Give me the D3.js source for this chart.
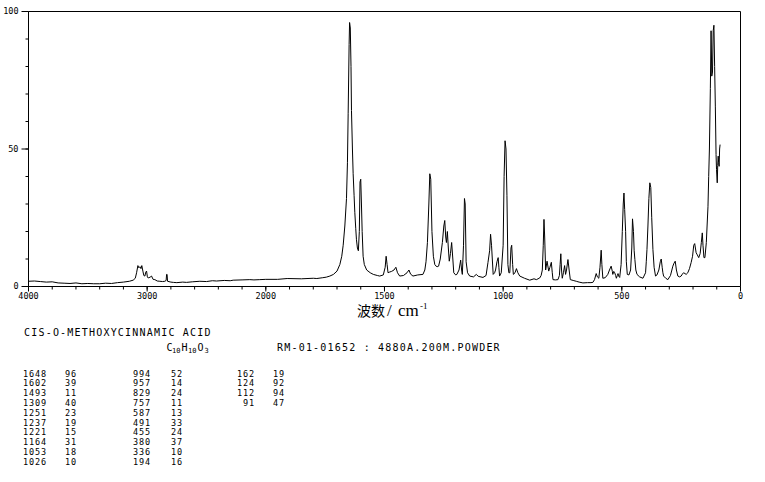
<!DOCTYPE html>
<html>
<head>
<meta charset="utf-8">
<script src="https://cdn.jsdelivr.net/npm/d3@7"></script>
<style>
html, body { margin: 0; padding: 0; background: #fff; }
svg { display: block; }
</style>
</head>
<body>
<svg id="chart" width="765" height="482"></svg>
<script>
// Raman spectrum, cis-o-methoxycinnamic acid

// spectrum: Raman shift (cm-1) and relative intensity
const wavenumbers = [
  4000, 3950, 3900, 3850, 3800, 3750, 3700, 3650, 3600, 3550, 3500, 3450, 3400, 3350, 3300, 3250,
  3200, 3150, 3118, 3100, 3089, 3078, 3070, 3061, 3052, 3045, 3036, 3028, 3019, 3012, 3005, 2998,
  2991, 2975, 2963, 2950, 2935, 2915, 2893, 2870, 2851, 2840, 2836, 2832, 2828, 2800, 2779, 2750,
  2700, 2668, 2620, 2556, 2500, 2450, 2415, 2350, 2300, 2275, 2200, 2135, 2100, 2051, 2000, 1950,
  1910, 1850, 1800, 1785, 1760, 1745, 1730, 1715, 1700, 1688, 1680, 1674, 1667, 1660, 1656, 1653,
  1649, 1647, 1644, 1641, 1639, 1635, 1632, 1628, 1625, 1621, 1618, 1614, 1610, 1606, 1603, 1600,
  1597, 1594, 1590, 1585, 1575, 1560, 1547, 1530, 1520, 1505, 1497, 1493, 1489, 1485, 1480, 1470,
  1460, 1452, 1445, 1436, 1420, 1405, 1397, 1390, 1380, 1360, 1338, 1330, 1325, 1319, 1313, 1309,
  1305, 1300, 1294, 1288, 1284, 1278, 1272, 1265, 1256, 1250, 1246, 1242, 1239, 1235, 1231, 1227,
  1222, 1217, 1212, 1208, 1200, 1195, 1186, 1179, 1175, 1172, 1167, 1163, 1160, 1156, 1150, 1141,
  1125, 1113, 1105, 1085, 1072, 1064, 1057, 1053, 1049, 1042, 1036, 1032, 1026, 1021, 1018, 1015,
  1008, 1000, 996, 992, 988, 984, 980, 976, 972, 967, 964, 960, 957, 950, 944, 938,
  930, 910, 888, 870, 860, 846, 840, 835, 831, 828, 825, 821, 815, 808, 803, 797,
  793, 790, 780, 769, 763, 760, 757, 754, 751, 746, 741, 737, 733, 727, 722, 717,
  705, 692, 680, 664, 645, 630, 622, 615, 608, 603, 597, 592, 587, 584, 580, 570,
  559, 552, 545, 540, 538, 534, 530, 526, 523, 519, 516, 512, 509, 503, 498, 494,
  491, 488, 484, 481, 477, 470, 463, 458, 455, 451, 448, 445, 441, 436, 425, 411,
  400, 397, 394, 390, 386, 382, 378, 374, 369, 364, 358, 352, 344, 338, 334, 330,
  327, 324, 315, 306, 295, 285, 280, 275, 270, 264, 257, 250, 245, 240, 234, 229,
  222, 215, 208, 202, 197, 193, 190, 187, 182, 176, 170, 165, 161, 158, 154, 150,
  144, 137, 134, 131, 127, 124, 121, 118, 115, 112, 109, 106, 103, 101, 98, 96,
  94, 92, 90, 88, 86
];
const intensities = [
  1.9, 2.0, 1.8, 1.6, 1.7, 1.3, 1.2, 1.1, 1.3, 1.0, 1.1, 1.0, 1.0, 1.2, 1.1, 1.4,
  1.6, 1.9, 2.3, 3.0, 5.0, 7.6, 6.8, 7.2, 6.5, 7.6, 5.6, 4.0, 3.8, 5.2, 5.6, 3.5,
  3.1, 3.4, 3.8, 2.6, 2.5, 2.0, 1.9, 1.8, 1.9, 2.2, 4.4, 4.4, 1.9, 1.6, 1.5, 1.4,
  1.6, 1.5, 1.7, 1.9, 1.8, 2.1, 2.0, 2.2, 2.1, 2.3, 2.4, 2.5, 2.4, 2.5, 2.6, 2.6,
  2.9, 2.8, 3.0, 2.9, 3.2, 3.4, 3.8, 4.4, 5.6, 8.0, 11, 15, 22, 32, 45, 63,
  88, 96, 94, 80, 64, 50, 41, 33, 27, 21, 17, 14, 13, 20, 38, 39,
  30, 20, 11, 8, 6, 5, 4.4, 4.0, 3.8, 4.2, 7, 11, 8, 5, 5.2, 5.5,
  6, 7, 5, 3.8, 4, 5, 6, 4.5, 3.8, 4.2, 4.4, 6, 9, 16, 30, 41,
  39, 20, 11, 8, 7.5, 7.2, 7.4, 10, 16, 22, 24, 18, 16, 20, 14, 9.2,
  12, 16, 10, 5, 4.2, 4.4, 6, 9.6, 6, 4.4, 15, 32, 30, 9, 5, 3.8,
  3.5, 4.4, 3.7, 3.3, 4, 8.7, 13, 19, 15, 4.4, 5, 6, 9, 10.5, 7, 3.8,
  5, 15, 40, 53, 50, 33, 8, 5, 5, 14, 15, 8, 4.4, 5, 6.5, 5,
  3.8, 3.0, 2.3, 2.8, 2.5, 3.1, 4, 6, 15, 24.4, 18, 6, 9.2, 5.6, 7, 8.8,
  5, 2.5, 2.4, 2.5, 4, 8, 11.9, 6, 3, 5, 7.6, 4.4, 6, 9.8, 6, 2.5,
  2.2, 1.9, 1.6, 1.3, 1.4, 1.4, 1.5, 2.5, 4.7, 3.5, 3, 7, 13.2, 8, 3, 3.2,
  4.4, 6, 7.4, 5.5, 4.4, 5.5, 5, 4, 3, 4, 4.7, 3.6, 3.3, 8, 20, 30,
  34, 28, 20, 9, 4.4, 4.2, 6, 14, 24.6, 20, 13, 9.8, 6, 4.4, 3.5, 3,
  5, 9, 13.5, 22, 32, 37.7, 36, 25, 13.5, 7, 3.8, 4.2, 6, 9, 10, 7,
  5, 3.8, 3, 2.5, 4, 7.4, 8.5, 9.2, 6, 3.8, 3.5, 3.8, 4.5, 5, 4.7, 4.4,
  5, 6.5, 8.7, 11, 15, 15.6, 14, 12.3, 11.5, 10.5, 12, 16, 19.5, 15, 10.5, 10.5,
  16, 29, 40, 50, 72, 93, 76.5, 78, 93, 95, 80, 65.6, 48, 42.5, 37.7, 44,
  47.4, 45, 43.7, 50, 51.6
];

// axis ticks
const xLabelTicks = [4000, 3000, 2000, 1500, 1000, 500, 0];
const xMinorTicks = d3.range(4000, 1999, -200).concat(d3.range(1900, -1, -100));
const yLabelTicks = [0, 50, 100];
const yMinorTicks = d3.range(0, 101, 10);

// header text
const compoundName = "CIS-O-METHOXYCINNAMIC ACID";
const sampleInfo = "RM-01-01652 : 4880A.200M.POWDER";

// peak table
const peakWn = [1648, 1602, 1493, 1309, 1251, 1237, 1221, 1164, 1053, 1026,
                994, 957, 829, 757, 587, 491, 455, 380, 336, 194,
                162, 124, 112, 91];
const peakInt = [96, 39, 11, 40, 23, 19, 15, 31, 18, 10,
                 52, 14, 24, 11, 13, 33, 24, 37, 10, 16,
                 19, 92, 94, 47];

const svg = d3.select("#chart");
const mono = '"DejaVu Sans Mono", monospace';

// x axis is compressed by half above 2000 cm-1
const x = d3.scaleLinear()
  .domain([4000, 2000, 0])
  .range([28.5, 265.8, 740.5]);

const y = d3.scaleLinear()
  .domain([0, 100])
  .range([286.5, 11.5]);

// frame
svg.append("path")
  .attr("d", `M${x(4000)},${y(0)}V${y(100)}H${x(0)}V${y(0)}Z`)
  .attr("fill", "none")
  .attr("stroke", "#000")
  .attr("stroke-width", 1);

// bottom ticks
const gx = svg.append("g").attr("transform", `translate(0,${y(0)})`);
gx.append("g")
  .call(d3.axisBottom(x).tickValues(xMinorTicks).tickSize(3).tickFormat("").offset(0))
  .call(g => g.select(".domain").remove());
gx.append("g")
  .call(d3.axisBottom(x).tickValues(xLabelTicks).tickSize(5).tickPadding(1.5)
    .tickFormat(d3.format("d")).offset(0))
  .call(g => g.select(".domain").remove())
  .call(g => g.selectAll("text")
    .attr("font-family", mono)
    .attr("font-size", 8.5)
    .attr("fill", "#000"));

// left ticks
const gy = svg.append("g").attr("transform", `translate(${x(4000)},0)`);
gy.append("g")
  .call(d3.axisLeft(y).tickValues(yMinorTicks).tickSize(3).tickFormat("").offset(0))
  .call(g => g.select(".domain").remove());
gy.append("g")
  .call(d3.axisLeft(y).tickValues(yLabelTicks).tickSize(7).tickPadding(3).offset(0))
  .call(g => g.select(".domain").remove())
  .call(g => g.selectAll("text")
    .attr("font-family", mono)
    .attr("font-size", 8.5)
    .attr("fill", "#000"));

// spectrum trace
const spectrum = wavenumbers.map((w, i) => [w, intensities[i]]);
const line = d3.line()
  .x(d => x(d[0]))
  .y(d => y(d[1]));

svg.append("path")
  .datum(spectrum)
  .attr("fill", "none")
  .attr("stroke", "#000")
  .attr("stroke-width", 1)
  .attr("d", line);

// x axis title
const xt = svg.append("text").attr("y", 316).attr("fill", "#000");
xt.append("tspan").attr("x", 357)
  .attr("font-family", '"Noto Sans CJK SC"').attr("font-size", 14)
  .text("波数");
xt.append("tspan").attr("x", 387)
  .attr("font-family", '"Liberation Serif", serif').attr("font-size", 17)
  .text("/");
xt.append("tspan").attr("x", 398)
  .attr("font-family", '"Liberation Serif", serif').attr("font-size", 17)
  .text("cm");
xt.append("tspan").attr("x", 420).attr("y", 309)
  .attr("font-family", '"Liberation Serif", serif').attr("font-size", 9)
  .text("-1");

// compound name and run info
svg.append("text")
  .attr("x", 24).attr("y", 336)
  .attr("font-family", mono).attr("font-size", 10)
  .attr("letter-spacing", 1.2).attr("fill", "#000")
  .text(compoundName);

const formula = [["C", 166.5, 0], ["10", 172, 1], ["H", 181.5, 0], ["10", 188, 1], ["O", 197.5, 0], ["3", 204.5, 1]];
svg.append("g").selectAll("text")
  .data(formula)
  .join("text")
  .attr("x", d => d[1])
  .attr("y", d => d[2] ? 352.5 : 351)
  .attr("font-family", mono)
  .attr("font-size", d => d[2] ? 7 : 10)
  .attr("fill", "#000")
  .text(d => d[0]);

svg.append("text")
  .attr("x", 277).attr("y", 351)
  .attr("font-family", mono).attr("font-size", 10)
  .attr("letter-spacing", 1.2).attr("fill", "#000")
  .text(sampleInfo);

// peak table, three groups of up to ten rows
const groups = [
  { wnRight: 46, intLeft: 65 },
  { wnRight: 150, intLeft: 171 },
  { wnRight: 254, intLeft: 273 }
];
const charW = 6;
const rows = peakWn.map((w, i) => ({ w, v: peakInt[i], g: Math.floor(i / 10), r: i % 10 }));

const table = svg.append("g")
  .attr("font-family", mono)
  .attr("font-size", 8.5)
  .attr("letter-spacing", 0.9)
  .attr("fill", "#000");

table.selectAll("text.wn")
  .data(rows)
  .join("text")
  .attr("class", "wn")
  .attr("x", d => groups[d.g].wnRight - String(d.w).length * charW + 1)
  .attr("y", d => 376.5 + d.r * 9.8)
  .text(d => d.w);

table.selectAll("text.int")
  .data(rows)
  .join("text")
  .attr("class", "int")
  .attr("x", d => groups[d.g].intLeft)
  .attr("y", d => 376.5 + d.r * 9.8)
  .text(d => d.v);
</script>
</body>
</html>
